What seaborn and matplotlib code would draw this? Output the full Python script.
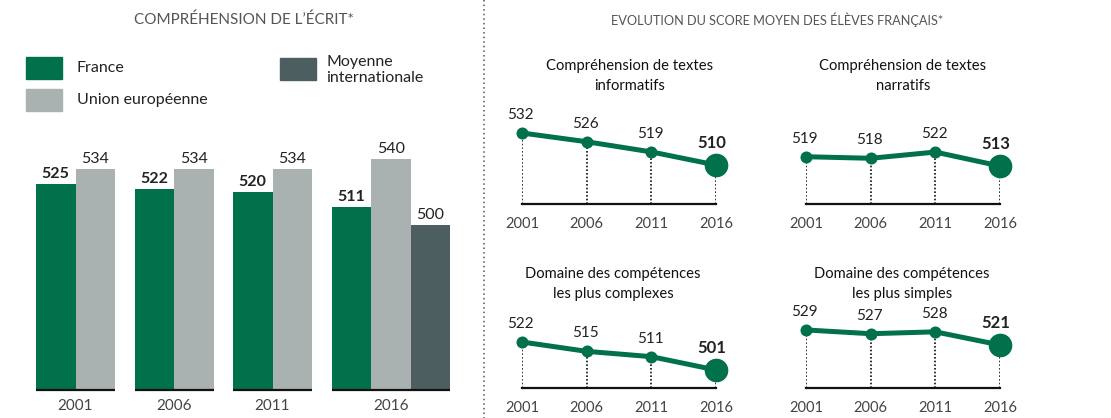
import matplotlib
matplotlib.use("Agg")
import matplotlib.pyplot as plt
from matplotlib.patches import Rectangle
import seaborn as sns
import pandas as pd

sns.set_theme(style="white")
plt.rcParams['font.family'] = ['Lato', 'DejaVu Sans']

# ---------------- data ----------------
years = ["2001", "2006", "2011", "2016"]
france = [525, 522, 520, 511]
union_eu = [534, 534, 534, 540]
moyenne_intl = [None, None, None, 500]

line_years = [2001, 2006, 2011, 2016]
informatifs = [532, 526, 519, 510]
narratifs = [519, 518, 522, 513]
complexes = [522, 515, 511, 501]
simples = [529, 527, 528, 521]

panel_titles = [
    "Compréhension de textes\ninformatifs",
    "Compréhension de textes\nnarratifs",
    "Domaine des compétences\nles plus complexes",
    "Domaine des compétences\nles plus simples",
]

GREEN = "#00714b"
LGREY = "#a9b2b1"
DGREY = "#4d5e60"
TXT = "#222222"
YTXT = "#444444"

W, H = 1111, 418
fig = plt.figure(figsize=(W / 100, H / 100), dpi=100)
fig.patch.set_facecolor("white")


def rect(left, right, bottom, top):
    return [left / W, 1 - bottom / H, (right - left) / W, (bottom - top) / H]


# overlay for titles / legend / separator
ov = fig.add_axes([0, 0, 1, 1])
ov.set_xlim(0, W)
ov.set_ylim(H, 0)
ov.axis("off")
ov.text(244, 20, "COMPRÉHENSION DE L\u2019ÉCRIT*", ha="center", va="center",
        fontsize=11, color="#555555")
ov.text(777, 20, "EVOLUTION DU SCORE MOYEN DES ÉLÈVES FRANÇAIS*", ha="center",
        va="center", fontsize=9.2, color="#555555")
ov.plot([484, 484], [0, H], color="#555555", lw=1.1, ls=(0, (1, 2)))

# legend
legend_items = [("France", GREEN, 26, 57), ("Union européenne", LGREY, 26, 89),
                ("Moyenne\ninternationale", DGREY, 280, 58)]
for lab, col, x, y in legend_items:
    ov.add_patch(Rectangle((x, y), 36, 22, color=col))
    if "\n" in lab:
        ov.text(x + 46, y - 3, lab, ha="left", va="top", fontsize=11.5,
                color=TXT, linespacing=1.2)
    else:
        ov.text(x + 51, y + 11, lab, ha="left", va="center", fontsize=11.5,
                color=TXT)

# ---------------- bar chart ----------------
axb = fig.add_axes(rect(0, 480, 390, 130))
axb.set_xlim(0, 480)
scale = 1.65
axb.set_ylim(400, 400 + 260 / scale)
axb.axis("off")

bw = 39.5
for i, yr in enumerate(years):
    start = 36 + 98.5 * i
    series = [(france[i], GREEN, "bold"), (union_eu[i], LGREY, "normal"),
              (moyenne_intl[i], DGREY, "normal")]
    series = [s for s in series if s[0] is not None]
    for j, (v, col, fw) in enumerate(series):
        xc = start + bw / 2 + bw * j
        axb.bar(xc, v - 400, bottom=400, width=bw, color=col, linewidth=0)
        axb.annotate(str(v), (xc, v), xytext=(0, 2), textcoords="offset points",
                     ha="center", va="bottom", fontsize=11.5, color=TXT,
                     fontweight=fw)
    end = start + bw * len(series)
    axb.plot([start, end], [400, 400], color="#111111", lw=1.6,
             solid_capstyle="butt", clip_on=False)
    axb.text((start + end) / 2, 400 - 9 / scale, yr, ha="center", va="top",
             fontsize=11, color=YTXT, clip_on=False)

# ---------------- line panels ----------------
panels = [
    (informatifs, (522, 716, 204, 125), (483.2, 537.5), (630, 65)),
    (narratifs, (806, 1000, 204, 125), (488.6, 539.4), (903, 65)),
    (complexes, (522, 716, 388, 320), (487.5, 538.5), (613, 273)),
    (simples, (806, 1000, 388, 320), (498.1, 534.3), (902, 273)),
]

for (vals, r, ylim, tpos), title in zip(panels, panel_titles):
    ax = fig.add_axes(rect(*r))
    ax.set_facecolor("none")
    df = pd.DataFrame({"year": line_years, "score": vals})
    ax.vlines(df["year"], ylim[0], df["score"], colors="#111111", lw=1.2,
              linestyles=(0, (1, 1.2)), zorder=1)
    sns.lineplot(data=df, x="year", y="score", ax=ax, color=GREEN, lw=3.6,
                 zorder=2, clip_on=False)
    sns.scatterplot(data=df.iloc[:-1], x="year", y="score", ax=ax, color=GREEN,
                    s=75, linewidth=0, zorder=3, clip_on=False)
    sns.scatterplot(data=df.iloc[-1:], x="year", y="score", ax=ax, color=GREEN,
                    s=290, linewidth=0, zorder=3, clip_on=False)
    ax.set_xlim(2001, 2016)
    ax.set_ylim(*ylim)
    for k, (yx, v) in enumerate(zip(line_years, vals)):
        last = k == len(vals) - 1
        ax.annotate(str(v), (yx, v), xytext=(-3 if last else -1, 10 if last else 8),
                    textcoords="offset points", ha="center", va="bottom",
                    fontsize=12 if last else 11, color=TXT,
                    fontweight="bold" if last else "normal", clip_on=False)
    for s in ["top", "right", "left"]:
        ax.spines[s].set_visible(False)
    ax.spines["bottom"].set_color("#111111")
    ax.spines["bottom"].set_linewidth(1.6)
    ax.set_yticks([])
    ax.set_xticks(line_years)
    ax.set_xticklabels([str(y) for y in line_years])
    ax.tick_params(axis="x", length=0, pad=9, labelsize=10.5, labelcolor=YTXT)
    ax.set_xlabel("")
    ax.set_ylabel("")
    ov.text(tpos[0], tpos[1] + 11, title, ha="center", va="center",
            fontsize=10.6, color="#111111", linespacing=1.55)

fig.savefig("out.png", dpi=100, facecolor="white")
